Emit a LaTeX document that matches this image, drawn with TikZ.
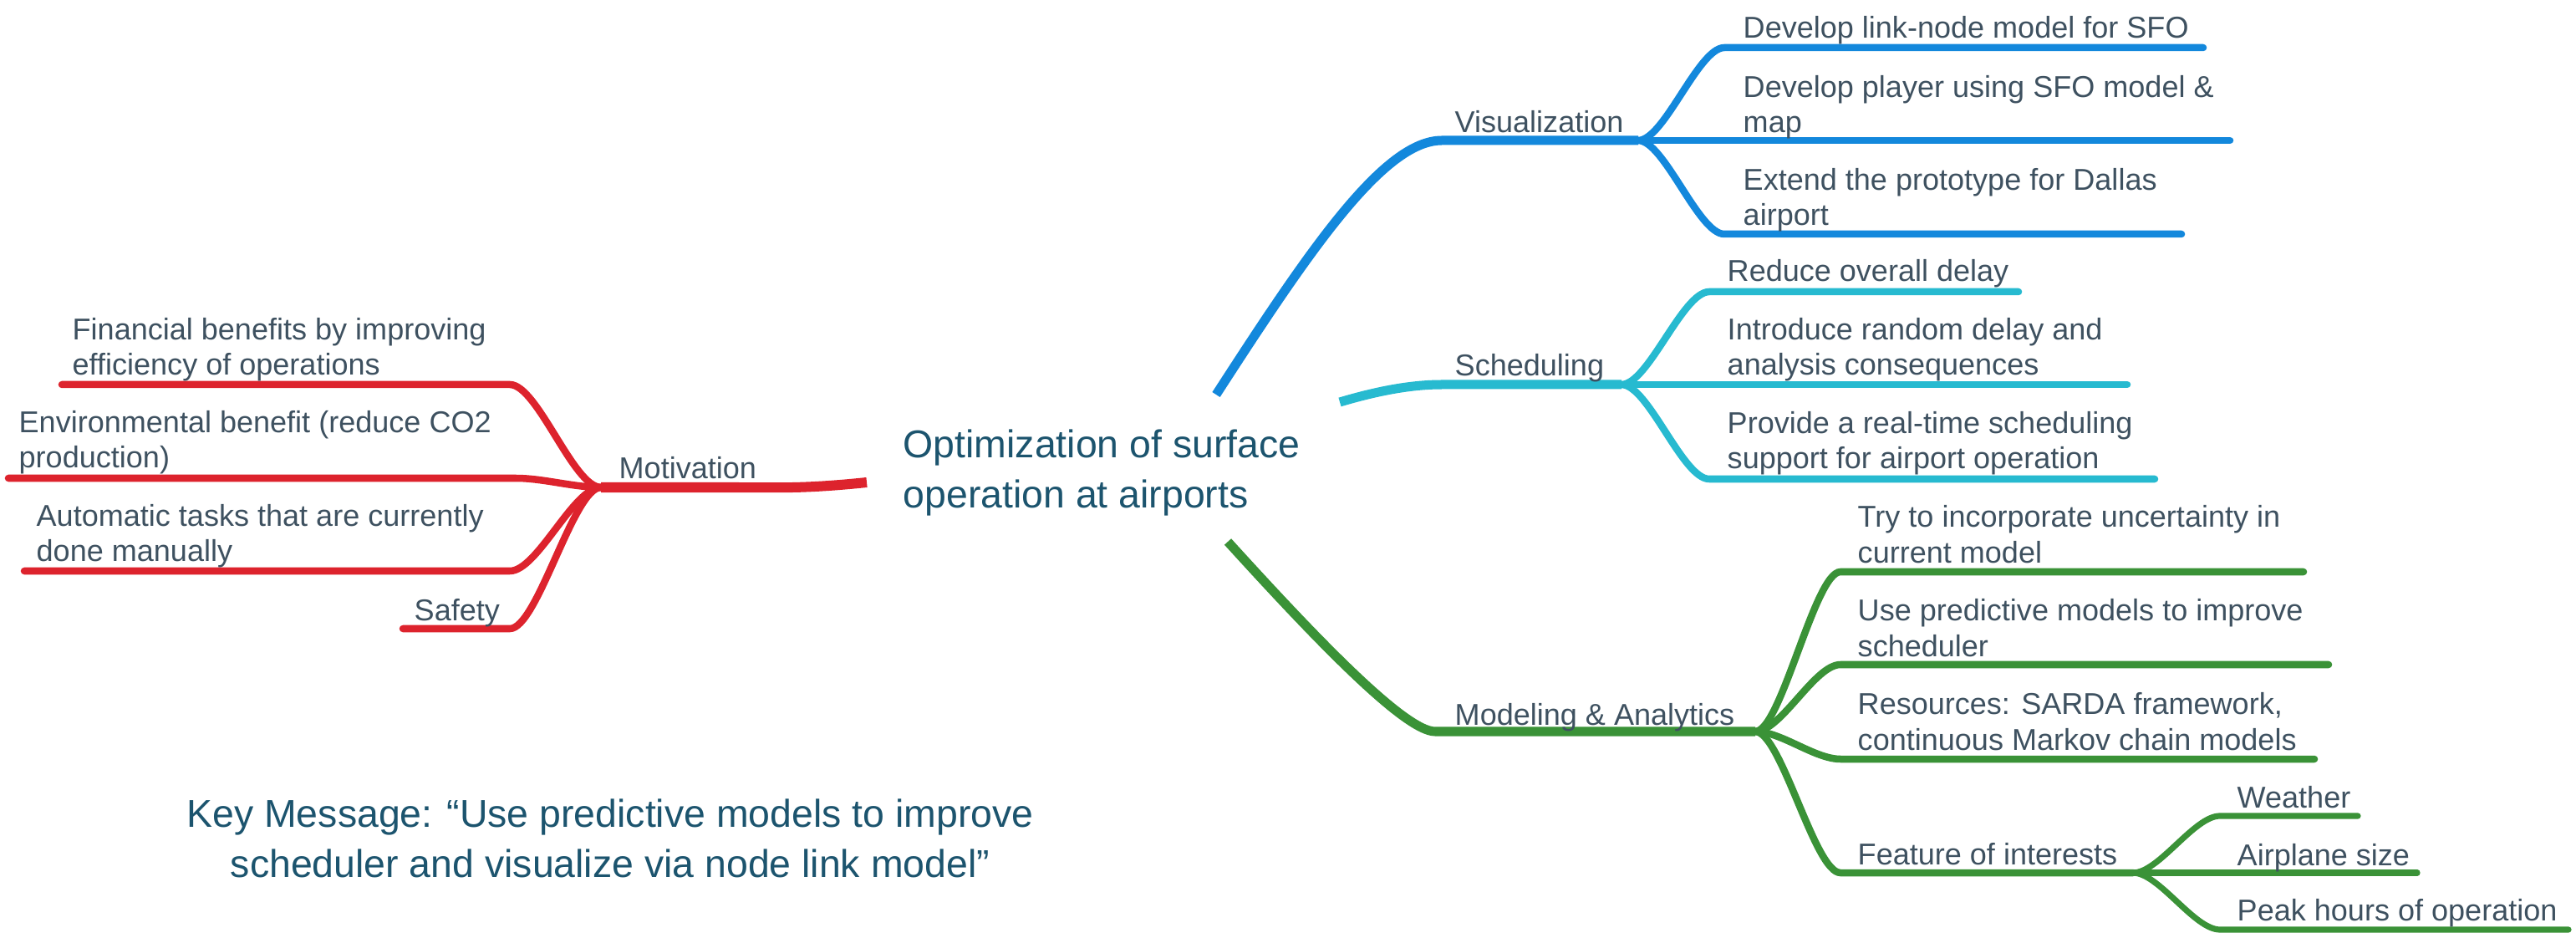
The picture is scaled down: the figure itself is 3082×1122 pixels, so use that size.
\documentclass[tikz,border=0pt]{standalone}
\usepackage{fontspec}
\setmainfont{Liberation Sans}
\definecolor{cred}{RGB}{221,35,45}
\definecolor{cblue}{RGB}{19,136,220}
\definecolor{ccyan}{RGB}{39,186,208}
\definecolor{cgreen}{RGB}{58,146,55}
\definecolor{ctext}{RGB}{62,81,96}
\definecolor{ctitle}{RGB}{28,84,110}
\begin{document}
\begin{tikzpicture}[x=0.01cm,y=-0.01cm,
  lbl/.style={anchor=base west, inner sep=0pt, text=ctext, font=\fontsize{10.25}{12.2}\selectfont, align=left},
  big/.style={inner sep=0pt, text=ctitle, font=\fontsize{13.2}{16.8}\selectfont},
  trunk/.style={line width=0.11cm, line cap=butt},
  lvl1/.style={line width=0.105cm, line cap=round},
  lvl2/.style={line width=0.085cm, line cap=round},
  lvl3/.style={line width=0.072cm, line cap=round},
]
\useasboundingbox (0,0) rectangle (3082,1122);

% central texts
\node[big, align=left, anchor=base west] (root) at (1080,607) {Optimization of surface\\operation at airports};
\node[big, align=center, anchor=base] (key) at (730,1049) {Key Message: “Use predictive models to improve\\scheduler and visualize via node link model”};

% ---------------- red: Motivation
\coordinate (rs) at (1037,577);
\coordinate (mh) at (719,583);
\draw[cred, line width=0.12cm, line cap=butt] (rs) .. controls (960,585) and (930,583) .. (880,583) -- (mh);
\node[lbl] (mot) at (740,573) {Motivation};
\coordinate (f1) at (610,460); \coordinate (f2) at (74,460);
\coordinate (e1) at (617,572); \coordinate (e2) at (10,572);
\coordinate (a1) at (610,683); \coordinate (a2) at (29,683);
\coordinate (s1) at (610,752); \coordinate (s2) at (482,752);
\draw[cred,lvl2] (mh) .. controls (686,583) and (643,460) .. (f1) -- (f2);
\draw[cred,lvl2] (mh) .. controls (686,583) and (650,572) .. (e1) -- (e2);
\draw[cred,lvl2] (mh) .. controls (686,583) and (643,683) .. (a1) -- (a2);
\draw[cred,lvl2] (mh) .. controls (686,583) and (643,752) .. (s1) -- (s2);
\node[lbl] (fin) at (86,449) {Financial benefits by improving\\efficiency of operations};
\node[lbl] (env) at (22,560) {Environmental benefit (reduce CO2\\production)};
\node[lbl] (aut) at (43,672) {Automatic tasks that are currently\\done manually};
\node[lbl] (saf) at (495,742) {Safety};

% ---------------- blue: Visualization
\coordinate (bs) at (1455,472);
\coordinate (b1) at (1725,168);
\coordinate (bh) at (1960,168);
\draw[cblue,trunk] (bs) .. controls (1565,302) and (1655,168) .. (b1) -- (bh);
\node[lbl] (vis) at (1740,159) {Visualization};
\coordinate (v1a) at (2063,57);  \coordinate (v1b) at (2636,57);
\coordinate (v2b) at (2668,168);
\coordinate (v3a) at (2063,280); \coordinate (v3b) at (2610,280);
\draw[cblue,lvl2] (bh) .. controls (1991,168) and (2032,57) .. (v1a) -- (v1b);
\draw[cblue,lvl2] (bh) -- (v2b);
\draw[cblue,lvl2] (bh) .. controls (1991,168) and (2032,280) .. (v3a) -- (v3b);
\node[lbl] (vis1) at (2085,46) {Develop link-node model for SFO};
\node[lbl] (vis2) at (2085,159) {Develop player using SFO model \&\\map};
\node[lbl] (vis3) at (2085,270) {Extend the prototype for Dallas\\airport};

% ---------------- cyan: Scheduling
\coordinate (cs) at (1603,481);
\coordinate (c1) at (1725,460);
\coordinate (ch) at (1940,460);
\draw[ccyan,trunk] (cs) .. controls (1650,467) and (1690,460) .. (c1) -- (ch);
\node[lbl] (sch) at (1740,450) {Scheduling};
\coordinate (s1a) at (2045,349); \coordinate (s1b) at (2415,349);
\coordinate (s2b) at (2545,460);
\coordinate (s3a) at (2045,573); \coordinate (s3b) at (2578,573);
\draw[ccyan,lvl2] (ch) .. controls (1972,460) and (2013,349) .. (s1a) -- (s1b);
\draw[ccyan,lvl2] (ch) -- (s2b);
\draw[ccyan,lvl2] (ch) .. controls (1972,460) and (2013,573) .. (s3a) -- (s3b);
\node[lbl] (sch1) at (2066,337) {Reduce overall delay};
\node[lbl] (sch2) at (2066,449) {Introduce random delay and\\analysis consequences};
\node[lbl] (sch3) at (2066,561) {Provide a real-time scheduling\\support for airport operation};

% ---------------- green: Modeling & Analytics
\coordinate (gs) at (1469,648);
\coordinate (g1) at (1717,875);
\coordinate (gh) at (2100,875);
\draw[cgreen,trunk] (gs) .. controls (1569,758) and (1680,875) .. (g1) -- (gh);
\node[lbl] (mod) at (1740,867) {Modeling \& Analytics};
\coordinate (m1a) at (2202,684);  \coordinate (m1b) at (2756,684);
\coordinate (m2a) at (2202,795);  \coordinate (m2b) at (2786,795);
\coordinate (m3a) at (2202,908);  \coordinate (m3b) at (2769,908);
\coordinate (m4a) at (2202,1044); \coordinate (fh) at (2552,1044);
\draw[cgreen,lvl2] (gh) .. controls (2131,875) and (2171,684) .. (m1a) -- (m1b);
\draw[cgreen,lvl2] (gh) .. controls (2131,875) and (2171,795) .. (m2a) -- (m2b);
\draw[cgreen,lvl2] (gh) .. controls (2131,875) and (2171,908) .. (m3a) -- (m3b);
\draw[cgreen,lvl2] (gh) .. controls (2131,875) and (2171,1044) .. (m4a) -- (fh);
\node[lbl] (mod1) at (2222,673) {Try to incorporate uncertainty in\\current model};
\node[lbl] (mod2) at (2222,785) {Use predictive models to improve\\scheduler};
\node[lbl] (mod3) at (2222,897) {Resources: SARDA framework,\\continuous Markov chain models};
\node[lbl] (mod4) at (2222,1034) {Feature of interests};
\coordinate (w1a) at (2656,976);  \coordinate (w1b) at (2821,976);
\coordinate (w2b) at (2892,1044);
\coordinate (w3a) at (2656,1112); \coordinate (w3b) at (3073,1112);
\draw[cgreen,lvl3] (fh) .. controls (2583,1044) and (2625,976) .. (w1a) -- (w1b);
\draw[cgreen,lvl3] (fh) -- (w2b);
\draw[cgreen,lvl3] (fh) .. controls (2583,1044) and (2625,1112) .. (w3a) -- (w3b);
\node[lbl] (feat1) at (2676,966) {Weather};
\node[lbl] (feat2) at (2676,1035) {Airplane size};
\node[lbl] (feat3) at (2676,1101) {Peak hours of operation};
\end{tikzpicture}
\end{document}
